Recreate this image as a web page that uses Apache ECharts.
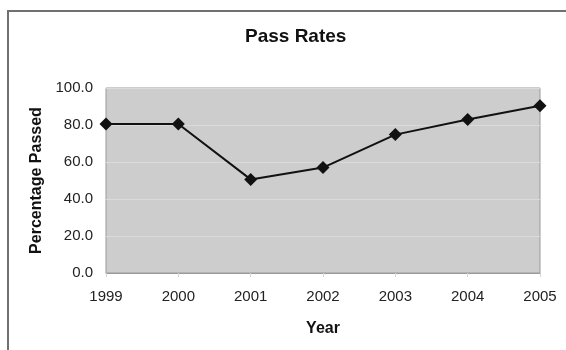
<!DOCTYPE html>
<html>
<head>
    <meta http-equiv="content-type" content="text/html; charset=utf-8">
    <script type="text/javascript" src="https://cdn.jsdelivr.net/npm/echarts@6/dist/echarts.min.js"></script>
    <style>
        html, body { margin: 0; padding: 0; background: #fff; }
        #main { width: 566px; height: 350px; }
    </style>
</head>
<body>
<div id="main"></div>
<script>
    // data
    var years = ['1999', '2000', '2001', '2002', '2003', '2004', '2005'];
    var passRates = [80.5, 80.5, 50.6, 57.0, 74.8, 83.0, 90.4];
    var yTicks = [0, 20, 40, 60, 80, 100];

    var fontFam = '"Liberation Sans", Arial, sans-serif';

    var chart = echarts.init(document.getElementById('main'));
    var option = {
        backgroundColor: '#ffffff',
        animation: false,
        title: {
            text: 'Pass Rates',
            left: 240,
            top: 22,
            textStyle: { fontFamily: fontFam, fontSize: 19, fontWeight: 'bold', color: '#111' }
        },
        // outer chart frame
        graphic: [{
            type: 'rect',
            shape: { x: 8, y: 11, width: 600, height: 400 },
            style: { fill: 'none', stroke: '#707070', lineWidth: 2 },
            silent: true
        }],
        grid: {
            left: 106, right: 26, top: 88, bottom: 77,
            show: true,
            backgroundColor: '#cdcdcd',
            borderColor: '#9a9a9a',
            borderWidth: 1
        },
        xAxis: {
            type: 'category',
            data: years,
            boundaryGap: false,
            name: 'Year',
            nameLocation: 'middle',
            nameGap: 48,
            nameTextStyle: { fontFamily: fontFam, fontSize: 16, fontWeight: 'bold', color: '#111' },
            axisLine: { show: true, lineStyle: { color: '#9a9a9a' } },
            axisTick: { show: true, length: 4, lineStyle: { color: '#d4d4d4' } },
            axisLabel: { fontFamily: fontFam, fontSize: 15, color: '#222', margin: 16 },
            splitLine: { show: false }
        },
        yAxis: {
            type: 'value',
            min: yTicks[0],
            max: yTicks[yTicks.length - 1],
            interval: 20,
            name: 'Percentage Passed',
            nameLocation: 'middle',
            nameGap: 60,
            nameTextStyle: { fontFamily: fontFam, fontSize: 16, fontWeight: 'bold', color: '#111' },
            axisLine: { show: false },
            axisTick: { show: false },
            axisLabel: {
                fontFamily: fontFam, fontSize: 15, color: '#222', margin: 13,
                formatter: function (v) { return v.toFixed(1); }
            },
            splitLine: { show: true, lineStyle: { color: '#dadada', width: 1 } }
        },
        series: [{
            name: 'Pass Rate',
            type: 'line',
            data: passRates,
            symbol: 'diamond',
            symbolSize: 13,
            lineStyle: { color: '#111', width: 2 },
            itemStyle: { color: '#111' }
        }]
    };
    chart.setOption(option);
</script>
</body>
</html>
